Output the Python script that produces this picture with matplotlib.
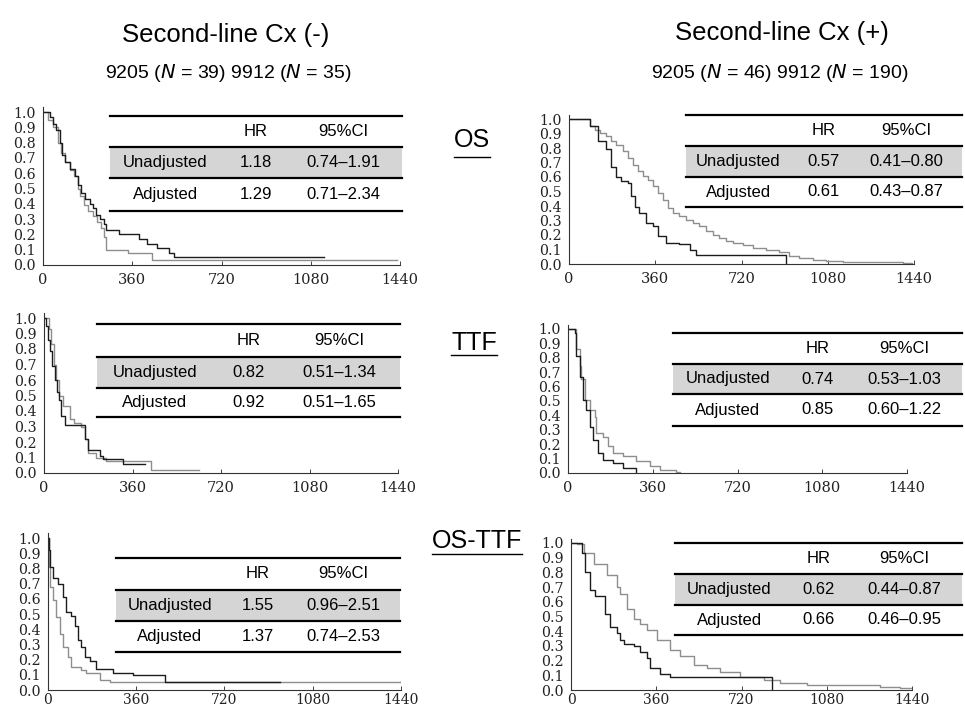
import matplotlib
matplotlib.use('Agg')
import matplotlib.pyplot as plt
from matplotlib.lines import Line2D

W, H = 965, 708

# ---- data ----
# survival step curves: (days, survival). "dark" = black line, "light" = gray line
OS_NEG_DARK_T = [0, 28, 40, 52, 68, 75, 90, 108, 128, 140, 152, 168, 188, 200, 212, 228, 248, 256, 308, 388, 420, 461, 508, 528, 1135]
OS_NEG_DARK_S = [1.0, 0.97, 0.92, 0.88, 0.80, 0.72, 0.67, 0.63, 0.58, 0.52, 0.47, 0.43, 0.40, 0.37, 0.33, 0.30, 0.27, 0.23, 0.20, 0.17, 0.14, 0.11, 0.08, 0.05, 0.05]
OS_NEG_LIGHT_T = [0, 20, 40, 60, 72, 88, 110, 124, 140, 150, 164, 180, 200, 216, 232, 248, 256, 342, 441, 1428]
OS_NEG_LIGHT_S = [1.0, 0.95, 0.90, 0.80, 0.73, 0.67, 0.62, 0.58, 0.50, 0.45, 0.39, 0.35, 0.32, 0.28, 0.24, 0.18, 0.10, 0.08, 0.03, 0.03]

OS_POS_DARK_T = [0, 72, 86, 121, 156, 176, 197, 218, 246, 260, 274, 294, 322, 350, 371, 406, 461, 503, 531, 906, 906]
OS_POS_DARK_S = [1.0, 1.0, 0.95, 0.85, 0.79, 0.67, 0.60, 0.57, 0.56, 0.47, 0.39, 0.35, 0.28, 0.26, 0.19, 0.145, 0.14, 0.10, 0.06, 0.06, 0.0]
OS_POS_LIGHT_T = [0, 72, 86, 107, 128, 156, 176, 197, 225, 246, 267, 288, 308, 329, 350, 371, 392, 413, 433, 461, 489, 517, 544, 572, 600, 628, 656, 683, 725, 767, 822, 878, 920, 961, 1017, 1072, 1142, 1295, 1392, 1433]
OS_POS_LIGHT_S = [1.0, 1.0, 0.949, 0.926, 0.903, 0.880, 0.846, 0.823, 0.777, 0.731, 0.685, 0.639, 0.605, 0.582, 0.536, 0.490, 0.444, 0.386, 0.352, 0.329, 0.306, 0.283, 0.260, 0.225, 0.202, 0.179, 0.156, 0.145, 0.129, 0.110, 0.094, 0.080, 0.057, 0.041, 0.030, 0.023, 0.014, 0.011, 0.005, 0.0]

TTF_NEG_DARK_T = [0, 7, 16, 26, 34, 43, 53, 61, 70, 84, 165, 179, 226, 239, 321, 409]
TTF_NEG_DARK_S = [1.0, 0.95, 0.86, 0.79, 0.69, 0.60, 0.52, 0.47, 0.37, 0.31, 0.22, 0.15, 0.11, 0.09, 0.06, 0.06]
TTF_NEG_LIGHT_T = [0, 20, 30, 39, 50, 61, 77, 104, 124, 152, 165, 179, 212, 253, 429, 436, 632]
TTF_NEG_LIGHT_S = [1.0, 0.93, 0.83, 0.70, 0.60, 0.50, 0.43, 0.35, 0.32, 0.30, 0.22, 0.13, 0.10, 0.08, 0.08, 0.02, 0.02]

TTF_POS_DARK_T = [0, 21, 28, 35, 50, 64, 78, 92, 106, 127, 149, 191, 234, 290]
TTF_POS_DARK_S = [1.0, 1.0, 0.97, 0.81, 0.67, 0.51, 0.44, 0.32, 0.23, 0.14, 0.09, 0.07, 0.035, 0.0]
TTF_POS_LIGHT_T = [0, 28, 35, 50, 57, 71, 92, 113, 120, 149, 170, 191, 234, 290, 347, 389, 460, 474]
TTF_POS_LIGHT_S = [1.0, 1.0, 0.86, 0.74, 0.65, 0.51, 0.44, 0.39, 0.28, 0.25, 0.185, 0.14, 0.12, 0.08, 0.046, 0.023, 0.005, 0.0]

OSTTF_NEG_DARK_T = [0, 4, 10, 20, 41, 61, 75, 95, 109, 122, 136, 150, 170, 197, 265, 347, 476, 945]
OSTTF_NEG_DARK_S = [1.0, 0.92, 0.81, 0.74, 0.70, 0.61, 0.51, 0.49, 0.42, 0.33, 0.28, 0.22, 0.19, 0.14, 0.11, 0.10, 0.055, 0.055]
OSTTF_NEG_LIGHT_T = [0, 4, 10, 20, 34, 48, 61, 82, 95, 136, 156, 211, 252, 1435]
OSTTF_NEG_LIGHT_S = [1.0, 0.81, 0.68, 0.59, 0.48, 0.37, 0.28, 0.22, 0.15, 0.13, 0.11, 0.066, 0.055, 0.055]

OSTTF_POS_DARK_T = [0, 39, 46, 60, 82, 103, 145, 166, 194, 208, 222, 265, 293, 321, 335, 377, 419, 848, 848]
OSTTF_POS_DARK_S = [1.0, 1.0, 0.93, 0.80, 0.68, 0.64, 0.52, 0.43, 0.39, 0.34, 0.31, 0.30, 0.26, 0.22, 0.15, 0.11, 0.09, 0.07, 0.0]
OSTTF_POS_LIGHT_T = [0, 25, 53, 96, 152, 194, 208, 236, 265, 293, 321, 363, 419, 461, 518, 574, 630, 715, 813, 884, 996, 1306, 1390, 1439]
OSTTF_POS_LIGHT_S = [1.0, 0.99, 0.93, 0.86, 0.78, 0.70, 0.65, 0.55, 0.48, 0.45, 0.41, 0.34, 0.27, 0.23, 0.17, 0.15, 0.125, 0.09, 0.068, 0.045, 0.034, 0.023, 0.011, 0.011]

# hazard ratio tables: [unadjusted, adjusted]
ROW_NAMES = ['Unadjusted', 'Adjusted']
HR_OS_NEG = ['1.18', '1.29']
CI_OS_NEG = ['0.74\u20131.91', '0.71\u20132.34']
HR_OS_POS = ['0.57', '0.61']
CI_OS_POS = ['0.41\u20130.80', '0.43\u20130.87']
HR_TTF_NEG = ['0.82', '0.92']
CI_TTF_NEG = ['0.51\u20131.34', '0.51\u20131.65']
HR_TTF_POS = ['0.74', '0.85']
CI_TTF_POS = ['0.53\u20131.03', '0.60\u20131.22']
HR_OSTTF_NEG = ['1.55', '1.37']
CI_OSTTF_NEG = ['0.96\u20132.51', '0.74\u20132.53']
HR_OSTTF_POS = ['0.62', '0.66']
CI_OSTTF_POS = ['0.44\u20130.87', '0.46\u20130.95']

X_TICKS = [0, 360, 720, 1080, 1440]
Y_TICKS = [i / 10 for i in range(11)]
ROW_LABELS = ['OS', 'TTF', 'OS-TTF']

SANS = 'Liberation Sans'
SERIF = 'DejaVu Serif'
DARK = '#1c1c1c'
LIGHT = '#8e8e8e'


def fx(x):
    return x / W


def fy(y):
    return 1 - y / H


fig = plt.figure(figsize=(W / 100, H / 100), dpi=100)
fig.patch.set_facecolor('white')

# panel geometry in pixels: x of day 0, x of day 1440, y of S=0, y of S=1
panels = [
    ((43, 400, 265, 112), (OS_NEG_DARK_T, OS_NEG_DARK_S, OS_NEG_LIGHT_T, OS_NEG_LIGHT_S),
     (110, 402, [116, 147, 178, 211]), (HR_OS_NEG, CI_OS_NEG)),
    ((569, 914, 264, 119), (OS_POS_DARK_T, OS_POS_DARK_S, OS_POS_LIGHT_T, OS_POS_LIGHT_S),
     (686, 962, [115, 146, 177, 207]), (HR_OS_POS, CI_OS_POS)),
    ((44, 398, 473, 318), (TTF_NEG_DARK_T, TTF_NEG_DARK_S, TTF_NEG_LIGHT_T, TTF_NEG_LIGHT_S),
     (97, 400, [324, 357, 388, 417]), (HR_TTF_NEG, CI_TTF_NEG)),
    ((568, 907, 473, 329), (TTF_POS_DARK_T, TTF_POS_DARK_S, TTF_POS_LIGHT_T, TTF_POS_LIGHT_S),
     (673, 962, [333, 364, 394, 426]), (HR_TTF_POS, CI_TTF_POS)),
    ((48, 401, 690, 538), (OSTTF_NEG_DARK_T, OSTTF_NEG_DARK_S, OSTTF_NEG_LIGHT_T, OSTTF_NEG_LIGHT_S),
     (116, 400, [558, 590, 621, 652]), (HR_OSTTF_NEG, CI_OSTTF_NEG)),
    ((571, 912, 690, 543), (OSTTF_POS_DARK_T, OSTTF_POS_DARK_S, OSTTF_POS_LIGHT_T, OSTTF_POS_LIGHT_S),
     (675, 962, [543, 574, 605, 635]), (HR_OSTTF_POS, CI_OSTTF_POS)),
]

YTOP = 1.03
for i, ((x0, x1, y0, y1), curves, (tl, tr, lines), (hr, ci)) in enumerate(panels):
    h1 = y0 - y1  # pixels per 1.0
    ax = fig.add_axes([fx(x0), fy(y0), (x1 - x0) / W, h1 * YTOP / H])
    dt, ds, lt, ls = curves
    ax.step(lt, ls, where='post', color=LIGHT, lw=1.0)
    ax.step(dt, ds, where='post', color=DARK, lw=1.0)
    ax.set_xlim(0, 1440)
    ax.set_ylim(0, YTOP)
    for s in ['top', 'right']:
        ax.spines[s].set_visible(False)
    for s in ['left', 'bottom']:
        ax.spines[s].set_linewidth(0.8)
        ax.spines[s].set_color('#333333')
    ax.set_xticks(X_TICKS)
    ax.set_yticks(Y_TICKS)
    ax.set_xticklabels([str(v) for v in X_TICKS], fontfamily=SERIF, fontsize=10.5 if i < 4 else 10)
    ax.set_yticklabels(['%.1f' % v for v in Y_TICKS], fontfamily=SERIF, fontsize=10.2)
    # bottom row sits right on the page edge
    ax.tick_params(axis='x', direction='in', length=3, width=0.6, pad=6 if i < 4 else 2.5, colors='#222222')
    ax.tick_params(axis='y', length=0, pad=5, colors='#222222')
    ax.patch.set_alpha(0)

    # HR table
    tax = fig.add_axes([fx(tl), fy(lines[3]), (tr - tl) / W, (lines[3] - lines[0]) / H])
    tax.set_xlim(0, 1)
    tax.set_ylim(lines[3], lines[0])
    tax.axis('off')
    tax.axhspan(lines[1], lines[2], color='#d5d5d5', lw=0)
    for yl in lines:
        tax.axhline(yl, color='black', lw=1.6, clip_on=False)
    cols = [0.19, 0.50, 0.80]
    mid = [(lines[k] + lines[k + 1]) / 2 for k in range(3)]
    tax.text(cols[1], mid[0], 'HR', ha='center', va='center', fontfamily=SANS, fontsize=12)
    tax.text(cols[2], mid[0], '95%CI', ha='center', va='center', fontfamily=SANS, fontsize=12)
    for r in range(2):
        tax.text(cols[0], mid[r + 1], ROW_NAMES[r], ha='center', va='center', fontfamily=SANS, fontsize=12)
        tax.text(cols[1], mid[r + 1], hr[r], ha='center', va='center', fontfamily=SANS, fontsize=12)
        tax.text(cols[2], mid[r + 1], ci[r], ha='center', va='center', fontfamily=SANS, fontsize=12)

# column titles
fig.text(fx(226), fy(35), 'Second-line Cx (-)', ha='center', va='center', fontfamily=SANS, fontsize=18.5)
fig.text(fx(782), fy(33), 'Second-line Cx (+)', ha='center', va='center', fontfamily=SANS, fontsize=18.5)
fig.text(fx(228), fy(73), r'9205 ($\mathit{N}$ = 39) 9912 ($\mathit{N}$ = 35)', ha='center', va='center',
         fontfamily=SANS, fontsize=14)
fig.text(fx(780), fy(73), r'9205 ($\mathit{N}$ = 46) 9912 ($\mathit{N}$ = 190)', ha='center', va='center',
         fontfamily=SANS, fontsize=14)

# underlined row labels
for lab, (cx, cy, uy) in zip(ROW_LABELS, [(472, 140, 157), (474, 343, 355), (477, 541, 554)]):
    t = fig.text(fx(cx), fy(cy), lab, ha='center', va='center', fontfamily=SANS, fontsize=18)
    fig.canvas.draw()
    bb = t.get_window_extent()
    fig.add_artist(Line2D([bb.x0 / W, bb.x1 / W], [fy(uy), fy(uy)], color='black', lw=1.0))

fig.savefig('out.png', dpi=100)
